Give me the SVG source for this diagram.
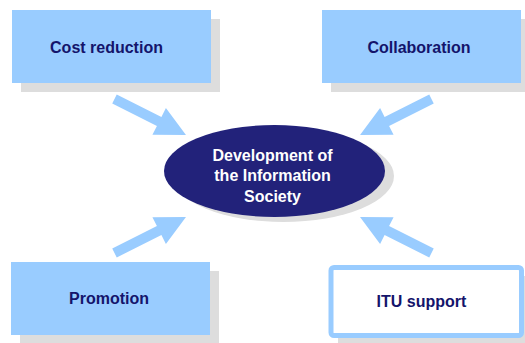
<svg xmlns="http://www.w3.org/2000/svg" width="525" height="343" viewBox="0 0 525 343">
  <style>
    .shadow { fill: #DDDDDD; }
    .box { fill: #99CCFF; }
    .outline { fill: #FFFFFF; stroke: #99CCFF; stroke-width: 5; }
    .label { font-family: "Liberation Sans", Arial, sans-serif; font-weight: bold; font-size: 16px; fill: #14146B; text-anchor: middle; }
    .core { font-family: "Liberation Sans", Arial, sans-serif; font-weight: bold; font-size: 16px; fill: #FFFFFF; text-anchor: middle; }
    .arrow { fill: #99CCFF; }
  </style>
  <defs>
    <!-- block arrow pointing along +x, tail at origin, tip at x=80 -->
    <polygon id="blockArrow" class="arrow" points="0,-5 50,-5 50,-15 80,0 50,15 50,5 0,5"/>
  </defs>

  <rect width="525" height="343" fill="#FFFFFF"/>

  <g id="connectors">
    <use href="#blockArrow" transform="translate(114.5,99) rotate(26.7)"/>
    <use href="#blockArrow" transform="translate(431.5,99) rotate(153.3)"/>
    <use href="#blockArrow" transform="translate(114.5,253) rotate(-26.7)"/>
    <use href="#blockArrow" transform="translate(431.5,253) rotate(206.7)"/>
  </g>

  <g id="cost-reduction">
    <rect class="shadow" x="21" y="19" width="199" height="73"/>
    <rect class="box" x="12" y="10" width="199" height="73"/>
    <text class="label" x="106.5" y="52.5">Cost reduction</text>
  </g>

  <g id="collaboration">
    <rect class="shadow" x="331" y="19" width="199" height="73"/>
    <rect class="box" x="322" y="10" width="199" height="73"/>
    <text class="label" x="419" y="53">Collaboration</text>
  </g>

  <g id="promotion">
    <rect class="shadow" x="20" y="271" width="199" height="73"/>
    <rect class="box" x="11" y="262" width="199" height="73"/>
    <text class="label" x="109" y="303.5">Promotion</text>
  </g>

  <g id="itu-support">
    <rect class="shadow" x="338" y="276" width="196" height="73"/>
    <rect class="outline" x="331" y="267.5" width="190.5" height="68" rx="3"/>
    <text class="label" x="421.5" y="307">ITU support</text>
  </g>

  <g id="information-society">
    <ellipse class="shadow" cx="283.5" cy="176" rx="110.5" ry="46"/>
    <ellipse cx="274.5" cy="171" rx="110.5" ry="46" fill="#22227A"/>
    <text class="core" x="272.5" y="160.5">Development of</text>
    <text class="core" x="272.5" y="181">the Information</text>
    <text class="core" x="272.5" y="201.5">Society</text>
  </g>
</svg>
